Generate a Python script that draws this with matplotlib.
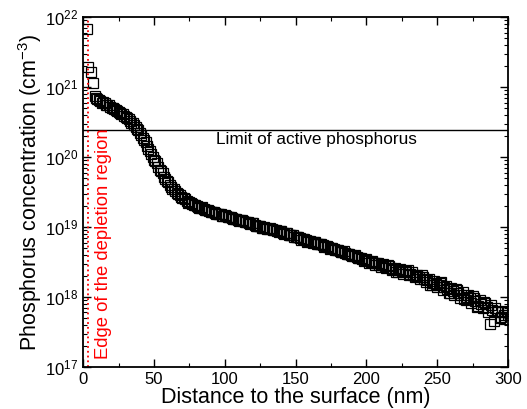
import numpy as np
import matplotlib
matplotlib.use("Agg")
import matplotlib.pyplot as plt
from matplotlib.ticker import MultipleLocator, LogLocator, NullFormatter

plt.rcParams['font.family'] = ['Liberation Sans', 'DejaVu Sans']
plt.rcParams['mathtext.fontset'] = 'custom'
plt.rcParams['mathtext.rm'] = 'Liberation Sans'

# depth (nm) and log10 of concentration (cm^-3)
depth_start = [2.5, 3.2, 5.3, 6.7]
logc_start = [21.83, 21.29, 21.21, 21.06]

# even depths 8..300 nm
depth_even = list(range(8, 301, 2))
logc_even = [
    20.88, 20.83, 20.80, 20.79, 20.75, 20.74, 20.70, 20.69, 20.66, 20.63,
    20.61, 20.57, 20.55, 20.49, 20.46, 20.40, 20.35, 20.27, 20.21, 20.11,
    20.05, 19.96, 19.91, 19.82, 19.77, 19.68, 19.64, 19.57, 19.54, 19.48,
    19.46, 19.41, 19.40, 19.35, 19.35, 19.31, 19.30, 19.27, 19.28, 19.24,
    19.25, 19.21, 19.22, 19.19, 19.19, 19.16, 19.17, 19.14, 19.15, 19.11,
    19.12, 19.09, 19.10, 19.07, 19.07, 19.04, 19.05, 19.01, 19.02, 18.99,
    19.00, 18.97, 18.98, 18.95, 18.96, 18.93, 18.94, 18.90, 18.91, 18.88,
    18.88, 18.85, 18.85, 18.82, 18.83, 18.79, 18.80, 18.77, 18.78, 18.75,
    18.75, 18.72, 18.73, 18.69, 18.70, 18.67, 18.67, 18.64, 18.65, 18.61,
    18.62, 18.58, 18.60, 18.55, 18.56, 18.52, 18.54, 18.49, 18.52, 18.46,
    18.49, 18.43, 18.47, 18.41, 18.44, 18.38, 18.42, 18.36, 18.40, 18.33,
    18.37, 18.31, 18.35, 18.28, 18.32, 18.25, 18.29, 18.21, 18.26, 18.17,
    18.23, 18.14, 18.20, 18.10, 18.16, 18.06, 18.13, 18.03, 18.10, 17.99,
    18.07, 17.96, 18.03, 17.92, 17.99, 17.86, 17.95, 17.84, 17.91, 17.78,
    17.88, 17.65, 17.80, 17.70, 17.78, 17.68, 17.74,
]

# odd depths 9..299 nm
depth_odd = list(range(9, 300, 2))
logc_odd = [
    20.85, 20.82, 20.78, 20.77, 20.74, 20.72, 20.70, 20.67, 20.65, 20.62,
    20.59, 20.56, 20.52, 20.48, 20.43, 20.38, 20.31, 20.24, 20.16, 20.08,
    20.00, 19.94, 19.86, 19.80, 19.72, 19.66, 19.60, 19.55, 19.51, 19.47,
    19.43, 19.41, 19.37, 19.36, 19.33, 19.31, 19.29, 19.27, 19.26, 19.25,
    19.23, 19.22, 19.20, 19.19, 19.18, 19.16, 19.16, 19.14, 19.13, 19.12,
    19.10, 19.10, 19.08, 19.07, 19.06, 19.05, 19.03, 19.02, 19.01, 18.99,
    18.99, 18.97, 18.97, 18.95, 18.94, 18.94, 18.92, 18.91, 18.89, 18.88,
    18.86, 18.85, 18.84, 18.83, 18.81, 18.80, 18.78, 18.78, 18.76, 18.75,
    18.74, 18.73, 18.71, 18.70, 18.68, 18.67, 18.66, 18.64, 18.63, 18.62,
    18.60, 18.59, 18.57, 18.56, 18.54, 18.53, 18.52, 18.50, 18.49, 18.48,
    18.46, 18.45, 18.44, 18.46, 18.41, 18.40, 18.35, 18.38, 18.37, 18.35,
    18.38, 18.33, 18.31, 18.30, 18.29, 18.31, 18.25, 18.24, 18.17, 18.20,
    18.19, 18.17, 18.21, 18.14, 18.12, 18.06, 18.08, 18.12, 18.05, 18.03,
    17.97, 18.00, 17.98, 18.01, 17.94, 17.87, 17.90, 17.93, 17.86, 17.62,
    17.82, 17.84, 17.78, 17.71, 17.74, 17.80,
]

limit_conc = 2.43e20
edge_depth = 3.5

x = np.array(depth_start + depth_even + depth_odd)
y = 10 ** np.array(logc_start + logc_even + logc_odd)
order = np.argsort(x)
x, y = x[order], y[order]

fig = plt.figure(figsize=(5.27, 4.09), dpi=100)
ax = fig.add_axes([0.158, 0.103, 0.806, 0.855])

ax.plot(x, y, 's', mfc='none', mec='black', ms=7.3, mew=0.9)
ax.axhline(limit_conc, color='black', lw=1)
ax.axvline(edge_depth, color='red', ls=':', lw=1.3)

ax.text(165, 2.25e20, 'Limit of active phosphorus', ha='center', va='top', fontsize=12.4)
ax.text(14.5, 1.3e17, 'Edge of the depletion region', color='red', rotation=90,
        ha='center', va='bottom', fontsize=13.3)

ax.set_yscale('log')
ax.set_xlim(0, 300)
ax.set_ylim(1e17, 1e22)
ax.xaxis.set_major_locator(MultipleLocator(50))
ax.xaxis.set_minor_locator(MultipleLocator(25))
ax.yaxis.set_major_locator(LogLocator(base=10, numticks=10))
ax.yaxis.set_minor_locator(LogLocator(base=10, subs=np.arange(2, 10), numticks=10))
ax.yaxis.set_minor_formatter(NullFormatter())

ax.tick_params(which='both', direction='in', top=True, right=True, labelsize=12)
ax.tick_params(which='major', length=6, width=1)
ax.tick_params(which='minor', length=3, width=0.8)
for s in ax.spines.values():
    s.set_linewidth(1.3)

ax.set_xlabel('Distance to the surface (nm)', fontsize=15.5, labelpad=0)
ax.set_ylabel('Phosphorus concentration (cm$^{-3}$)', fontsize=15.5, labelpad=1)

fig.savefig('out.png', dpi=100)
